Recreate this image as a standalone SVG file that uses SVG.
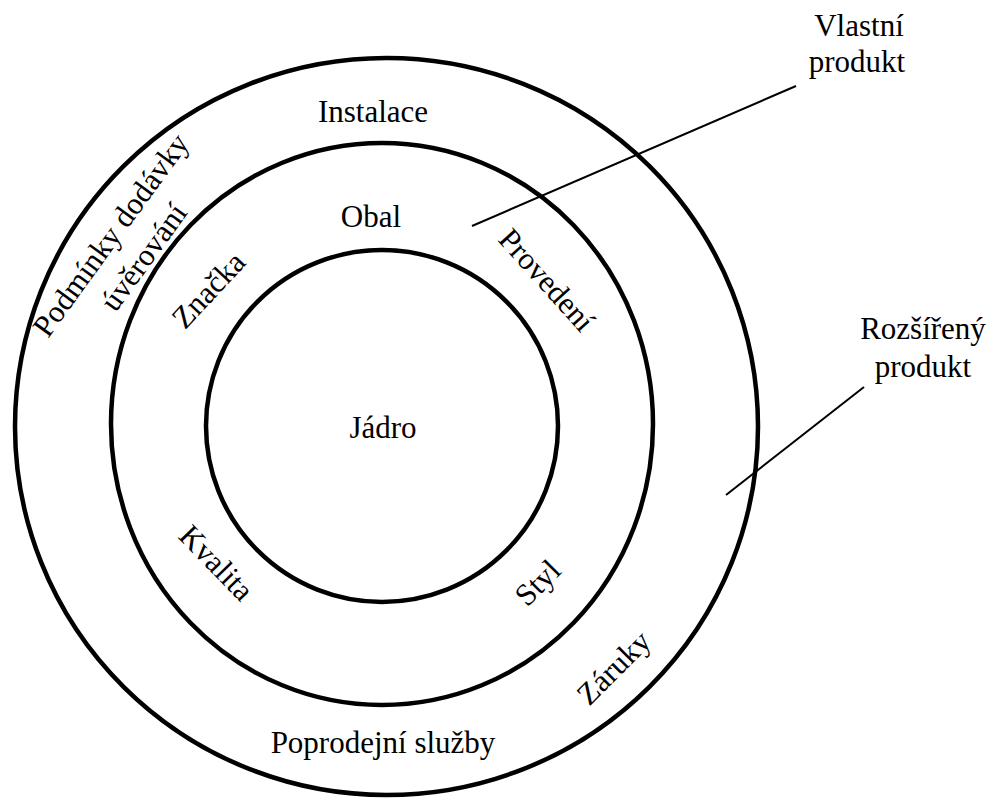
<svg xmlns="http://www.w3.org/2000/svg" width="998" height="802" viewBox="0 0 998 802">
<style>
.ring{fill:none;stroke:#000;stroke-width:4.5}
.lbl{font-family:'Liberation Serif','Tinos','Times New Roman','DejaVu Serif',serif;font-size:31px;fill:#000;text-anchor:middle}
.conn{stroke:#000;stroke-width:2;fill:none}
</style>
<rect width="998" height="802" fill="#fff"/>
<g id="outer">
<ellipse class="ring" cx="386.5" cy="426.5" rx="371.5" ry="368.5"/>
<text class="lbl" x="373" y="122">Instalace</text>
<text class="lbl" x="383" y="753">Poprodejní služby</text>
<text class="lbl" transform="translate(119,241) rotate(-54)">Podmínky dodávky</text>
<text class="lbl" transform="translate(152,263) rotate(-54)">úvěrování</text>
<text class="lbl" transform="translate(621,675) rotate(-45)">Záruky</text>
</g>
<g id="middle">
<ellipse class="ring" cx="382" cy="424" rx="271" ry="281"/>
<text class="lbl" x="371" y="227">Obal</text>
<text class="lbl" transform="translate(216,297) rotate(-47)">Značka</text>
<text class="lbl" transform="translate(539,287) rotate(48)">Provedení</text>
<text class="lbl" transform="translate(209,570) rotate(46)">Kvalita</text>
<text class="lbl" transform="translate(545,590) rotate(-45)">Styl</text>
</g>
<g id="inner">
<circle class="ring" cx="382" cy="426" r="176"/>
<text class="lbl" x="383" y="438">Jádro</text>
</g>
<g id="vlastni">
<text class="lbl" x="859" y="36">Vlastní</text>
<text class="lbl" x="857" y="72">produkt</text>
</g>
<g id="rozsireny">
<text class="lbl" x="923" y="339">Rozšířený</text>
<text class="lbl" x="923" y="377">produkt</text>
</g>
<g id="connectors">
<line class="conn" x1="472" y1="226" x2="796" y2="86"/>
<line class="conn" x1="726" y1="495" x2="864" y2="387"/>
</g>
</svg>
